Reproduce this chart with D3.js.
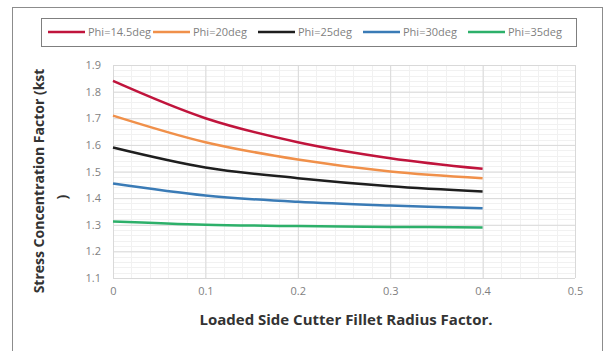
<!DOCTYPE html>
<html>
<head>
<meta charset="utf-8">
<script src="https://cdn.jsdelivr.net/npm/d3@7"></script>
<style>
    body { margin: 0; background: #fff; }
    text { font-family: "Open Sans", "DejaVu Sans", sans-serif; }
</style>
</head>
<body>
<div id="chart"></div>
<script>
// Stress concentration factor vs cutter fillet radius factor
const radius = [0, 0.1, 0.2, 0.3, 0.4];

const phi145 = [1.84, 1.70, 1.61, 1.55, 1.51];
const phi20 = [1.71, 1.61, 1.545, 1.50, 1.475];
const phi25 = [1.59, 1.515, 1.475, 1.445, 1.425];
const phi30 = [1.455, 1.41, 1.386, 1.372, 1.362];
const phi35 = [1.312, 1.30, 1.295, 1.292, 1.29];

const seriesNames = ["Phi=14.5deg", "Phi=20deg", "Phi=25deg", "Phi=30deg", "Phi=35deg"];
const xTicks = [0, 0.1, 0.2, 0.3, 0.4, 0.5];
const yTicks = [1.1, 1.2, 1.3, 1.4, 1.5, 1.6, 1.7, 1.8, 1.9];

const colors = ["#c0143c", "#f0904a", "#1e1e1e", "#3a7bb6", "#2db06a"];

const series = [phi145, phi20, phi25, phi30, phi35].map((vals, i) => ({
    name: seriesNames[i],
    values: vals.map((v, j) => ({x: radius[j], y: v}))
}));

const width = 606, height = 351;

const plot = {left: 113, right: 575, top: 65, bottom: 278};

const xScale = d3.scaleLinear()
    .domain([0, 0.5])
    .range([plot.left, plot.right]);

const yScale = d3.scaleLinear()
    .domain([1.1, 1.9])
    .range([plot.bottom, plot.top]);

const svg = d3.select('#chart')
    .append('svg')
    .attr('width', width)
    .attr('height', height);

// outer frame
svg.append('rect')
    .attr('x', 12.5).attr('y', 7.5)
    .attr('width', 590).attr('height', 360)
    .attr('fill', '#fff')
    .attr('stroke', '#8c8c8c');

// minor grid
const minorX = d3.range(0, 0.5001, 0.02);
const minorY = d3.range(1.1, 1.9001, 0.02);

svg.append('g')
    .selectAll('line')
    .data(minorX)
    .join('line')
    .attr('x1', d => Math.round(xScale(d)) + 0.5)
    .attr('x2', d => Math.round(xScale(d)) + 0.5)
    .attr('y1', plot.top).attr('y2', plot.bottom)
    .attr('stroke', '#f1f1f1');

svg.append('g')
    .selectAll('line')
    .data(minorY)
    .join('line')
    .attr('y1', d => Math.round(yScale(d)) + 0.5)
    .attr('y2', d => Math.round(yScale(d)) + 0.5)
    .attr('x1', plot.left).attr('x2', plot.right)
    .attr('stroke', '#f1f1f1');

// major grid
const xAxis = d3.axisBottom(xScale)
    .tickValues(xTicks)
    .tickFormat(d => d === 0 ? "0" : d3.format(".1f")(d))
    .tickSize(-(plot.bottom - plot.top))
    .tickPadding(9);

const yAxis = d3.axisLeft(yScale)
    .tickValues(yTicks)
    .tickFormat(d3.format(".1f"))
    .tickSize(-(plot.right - plot.left))
    .tickPadding(12);

const gx = svg.append('g')
    .attr('transform', `translate(0,${plot.bottom})`)
    .call(xAxis);

const gy = svg.append('g')
    .attr('transform', `translate(${plot.left},0)`)
    .call(yAxis);

[gx, gy].forEach(g => {
    g.select('.domain').remove();
    g.selectAll('.tick line').attr('stroke', '#d9d9d9');
    g.selectAll('.tick text')
        .attr('fill', '#7f7f7f')
        .style('font-size', '11px');
});

// curves
const line = d3.line()
    .x(d => xScale(d.x))
    .y(d => yScale(d.y))
    .curve(d3.curveCatmullRom);

svg.append('g')
    .selectAll('path')
    .data(series)
    .join('path')
    .attr('d', d => line(d.values))
    .attr('fill', 'none')
    .attr('stroke', (d, i) => colors[i])
    .attr('stroke-width', 2.5);

// legend
const legend = svg.append('g');

legend.append('rect')
    .attr('x', 41.5).attr('y', 18.5)
    .attr('width', 535).attr('height', 28)
    .attr('fill', '#fff')
    .attr('stroke', '#7f7f7f');

const item = legend.selectAll('g')
    .data(series)
    .join('g')
    .attr('transform', (d, i) => `translate(${48 + i * 105},32)`);

item.append('line')
    .attr('x1', 0).attr('x2', 37)
    .attr('stroke', (d, i) => colors[i])
    .attr('stroke-width', 2.5);

item.append('text')
    .attr('x', 40)
    .attr('dy', '0.35em')
    .attr('fill', '#7f7f7f')
    .style('font-size', '11px')
    .text(d => d.name);

// axis titles
svg.append('text')
    .attr('x', 346)
    .attr('y', 325)
    .attr('text-anchor', 'middle')
    .attr('fill', '#333')
    .style('font-size', '15px')
    .style('font-weight', 'bold')
    .text('Loaded Side Cutter Fillet Radius Factor.');

svg.append('text')
    .attr('transform', 'translate(44,181) rotate(-90)')
    .attr('text-anchor', 'middle')
    .attr('fill', '#333')
    .style('font-size', '14px')
    .style('font-weight', 'bold')
    .text('Stress Concentration Factor (kst');

svg.append('text')
    .attr('transform', 'translate(67,197) rotate(-90)')
    .attr('text-anchor', 'middle')
    .attr('fill', '#333')
    .style('font-size', '14px')
    .style('font-weight', 'bold')
    .text(')');
</script>
</body>
</html>
